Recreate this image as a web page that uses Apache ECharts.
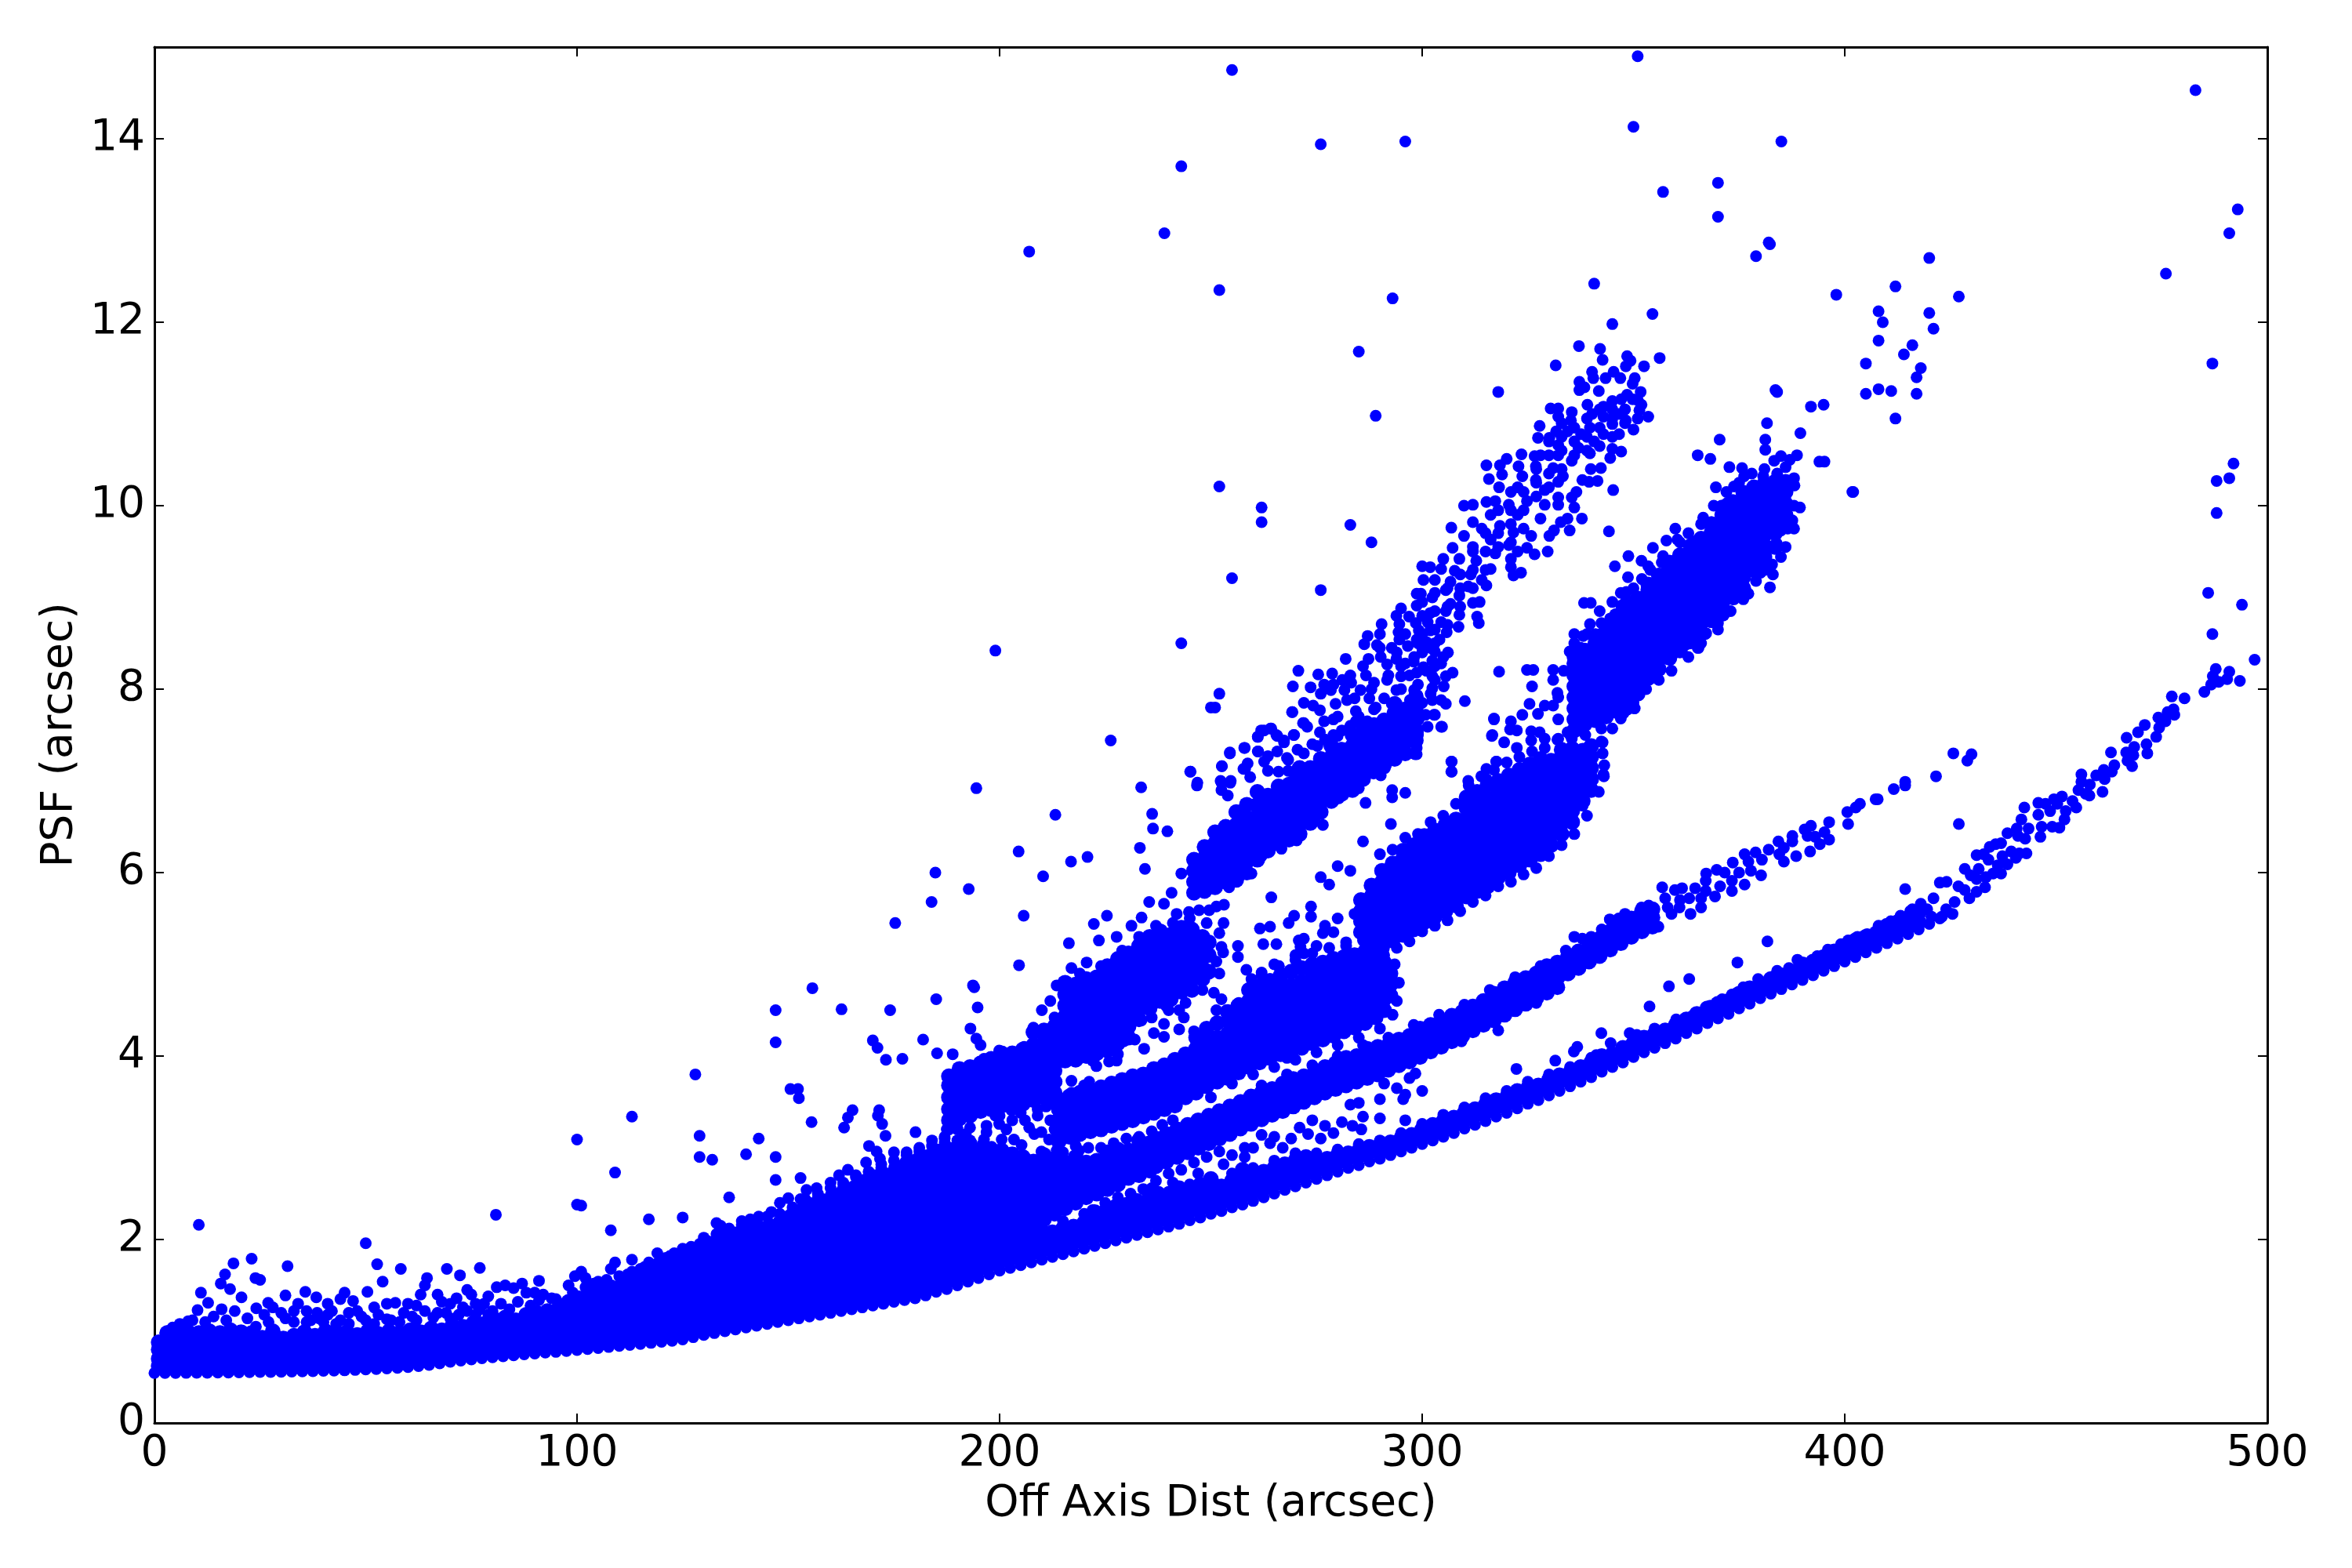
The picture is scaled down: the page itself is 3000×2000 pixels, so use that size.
<!DOCTYPE html>
<html><head><meta charset="utf-8">
<style>html,body{margin:0;padding:0;background:#fff}#c{width:3000px;height:2000px}</style>
<script src="https://cdn.jsdelivr.net/npm/echarts@6/dist/echarts.min.js"></script>
</head><body><div id="c"></div>
<script>
const xTitle = "Off Axis Dist (arcsec)";
const yTitle = "PSF (arcsec)";
// Every list below holds values. Pairs are [x, y]; columns are [x, y, y, ...].
const floorEdge = [[0,.545],[2.5,.545],[5,.545],[7.5,.546],[10,.547],[12.5,.548],[15,.549],[17.5,.55],[20,.552],[22.5,.553],[25,.555],[27.5,.556],[30,.558],[32.5,.56],[35,.562],[37.5,.565],[40,.568],[42.5,.57],[45,.574],[47.5,.578],[50,.583],[52.5,.588],[55,.594],[57.5,.6],[60,.61],[62.5,.62],[65,.633],[67.5,.65],[70,.667],[72.5,.68],[75,.693],[77.5,.705],[80,.716],[82.5,.727],[85,.738],[87.5,.748],[90,.757],[92.5,.767],[95,.775],[97.5,.785],[100,.795],[102.5,.805],[105,.817],[107.5,.828],[110,.84],[112.5,.85],[115,.862],[117.5,.873],[120,.885],[122.5,.896],[125,.91],[127.5,.935],[130,.96],[132.5,.98],[135,1.0],[137.5,1.02],[140,1.04],[142.5,1.06],[145,1.08],[147.5,1.1],[150,1.12],[152.5,1.14],[155,1.16],[157.5,1.18],[160,1.2],[162.5,1.22],[165,1.24],[167.5,1.26],[170,1.28],[172.5,1.3],[175,1.32],[177.5,1.34],[180,1.36],[182.5,1.39],[185,1.43],[187.5,1.46],[190,1.5],[192.5,1.54],[195,1.58],[197.5,1.62],[200,1.66],[202.5,1.69],[205,1.72],[207.5,1.75],[210,1.78],[212.5,1.81],[215,1.84],[217.5,1.87],[220,1.9],[222.5,1.93],[225,1.96],[227.5,1.99],[230,2.02],[232.5,2.05],[235,2.08],[237.5,2.11],[240,2.14],[242.5,2.17],[245,2.21],[247.5,2.24],[250,2.28],[252.5,2.31],[255,2.35],[257.5,2.38],[260,2.42],[262.5,2.46],[265,2.5],[267.5,2.54],[270,2.58],[272.5,2.62],[275,2.66],[277.5,2.7],[280,2.74],[282.5,2.78],[285,2.81],[287.5,2.85],[290,2.88],[292.5,2.92],[295,2.96],[297.5,3.0],[300,3.04],[302.5,3.08],[305,3.12],[307.5,3.16],[310,3.21],[312.5,3.25],[315,3.29],[317.5,3.34],[320,3.38],[322.5,3.43],[325,3.48],[327.5,3.52],[330,3.57],[332.5,3.62],[335,3.67],[337.5,3.72],[340,3.77],[342.5,3.83],[345,3.88],[347.5,3.93],[350,3.99],[352.5,4.04],[355,4.09],[357.5,4.14],[360,4.19],[362.5,4.25],[365,4.3],[367.5,4.36],[370,4.41],[372.5,4.46],[375,4.52],[377.5,4.57],[380,4.63],[382.5,4.68],[385,4.73],[387.5,4.78],[390,4.83],[392.5,4.88],[395,4.93],[397.5,4.98],[400,5.03],[402.5,5.08],[405,5.13],[407.5,5.18],[410,5.23],[412.5,5.28],[415,5.33],[417.5,5.38],[420,5.44],[422.5,5.5]];
const coreBlob = [
[1,.62,.7,.8,.88],[3,.62,.72,.82,.92,.98],[5.5,.63,.73,.83,.93,1.0],[8,.63,.73,.83,.93,.99],[10.5,.62,.72,.82,.92,.98],[13,.63,.74,.84,.93,1.0],[15.5,.62,.72,.82,.92,.98],[18,.63,.73,.83,.94,1.01],[20.5,.63,.72,.82,.93,.99],[23,.63,.74,.85,.95,.98],[25.5,.63,.73,.83,.93],[28,.64,.74,.84,.94,1.0],[30.5,.64,.73,.83,.92],[33,.64,.74,.84,.95],[35.5,.64,.74,.84,.94,.99],[38,.64,.74,.85,.95],[40.5,.65,.75,.85,.96,1.0],[43,.65,.75,.85,.94,.98],[45.5,.65,.75,.86,.96,.99],[48,.66,.76,.86,.96],[50.5,.66,.76,.86,.95,1.0],[53,.67,.77,.87,.97],[55.5,.68,.78,.88,.97,1.0],[58,.68,.78,.88,.98],[60.5,.69,.79,.89,.97,1.01],[63,.7,.8,.9,.99],[65.5,.71,.81,.91,1.0,1.03],[68,.73,.83,.93,1.01],[70.5,.75,.85,.95,1.04,1.06],[73,.76,.86,.96,1.05],[75.5,.78,.88,.98,1.06,1.09],[78,.79,.89,.99,1.08],[80.5,.8,.9,1.0,1.09,1.13],[83,.81,.91,1.01,1.1,1.15],[85.5,.82,.92,1.02,1.12],[88,.83,.93,1.03,1.13,1.18],[90.5,.84,.94,1.04,1.14,1.2],[93,.85,.95,1.05,1.15,1.22],[95.5,.86,.96,1.06,1.16,1.24],[98,.87,.97,1.07,1.17,1.27,1.32],[100.5,.88,.98,1.08,1.18,1.28,1.36],[103,.89,.99,1.09,1.19,1.29,1.39,1.42],[105.5,.9,1.0,1.1,1.2,1.3,1.4,1.44],[108,.91,1.01,1.11,1.21,1.31,1.41,1.48],[110.5,.93,1.03,1.13,1.23,1.33,1.43,1.5],[113,.94,1.04,1.14,1.24,1.34,1.44,1.53],[115.5,.95,1.05,1.15,1.25,1.35,1.45,1.55,1.6],[118,.96,1.06,1.16,1.26,1.36,1.46,1.56,1.64],[120.5,.97,1.07,1.17,1.27,1.37,1.47,1.57,1.67,1.7],[123,.98,1.08,1.18,1.28,1.38,1.48,1.58,1.68,1.76],[125.5,1.0,1.1,1.2,1.3,1.4,1.5,1.6,1.7,1.8],[128,1.03,1.13,1.23,1.33,1.43,1.53,1.63,1.73,1.84,1.88],[130.5,1.05,1.15,1.25,1.35,1.45,1.55,1.65,1.75,1.85,1.92],[133,1.07,1.17,1.27,1.37,1.47,1.57,1.67,1.77,1.87,1.97],[135.5,1.09,1.19,1.29,1.39,1.49,1.59,1.69,1.79,1.89,1.99,2.02],[138,1.11,1.21,1.31,1.41,1.51,1.61,1.71,1.81,1.91,2.01,2.06],[140.5,1.13,1.23,1.33,1.43,1.53,1.63,1.73,1.83,1.93,2.03,2.1],[143,1.15,1.25,1.35,1.45,1.55,1.65,1.75,1.85,1.95,2.05,2.13],[145.5,1.17,1.27,1.37,1.47,1.57,1.67,1.77,1.87,1.97,2.07,2.15],[148,1.19,1.29,1.39,1.49,1.59,1.69,1.79,1.89,1.99,2.09,2.18],[150.5,1.22,1.32,1.42,1.52,1.62,1.72,1.82,1.92,2.02,2.12,2.22,2.25],[153,1.24,1.34,1.44,1.54,1.64,1.74,1.84,1.94,2.04,2.14,2.24,2.31],[155.5,1.26,1.36,1.46,1.56,1.66,1.76,1.86,1.96,2.06,2.16,2.26,2.34],[158,1.28,1.38,1.48,1.58,1.68,1.78,1.88,1.98,2.08,2.18,2.28,2.38,2.42],[160.5,1.3,1.4,1.5,1.6,1.7,1.8,1.9,2.0,2.1,2.2,2.3,2.4,2.48],[163,1.32,1.42,1.52,1.62,1.72,1.82,1.92,2.02,2.12,2.22,2.32,2.42,2.52],[165.5,1.34,1.44,1.54,1.64,1.74,1.84,1.94,2.04,2.14,2.24,2.34,2.44,2.56],[168,1.36,1.46,1.56,1.66,1.76,1.86,1.96,2.06,2.16,2.26,2.36,2.46,2.56,2.63],[170.5,1.38,1.48,1.58,1.68,1.78,1.88,1.98,2.08,2.18,2.28,2.38,2.48,2.58,2.68],[173,1.4,1.5,1.6,1.7,1.8,1.9,2.0,2.1,2.2,2.3,2.4,2.5,2.6,2.7],[175.5,1.42,1.52,1.62,1.72,1.82,1.92,2.02,2.12,2.22,2.32,2.42,2.52,2.62,2.72,2.78],[178,1.44,1.54,1.64,1.74,1.84,1.94,2.04,2.14,2.24,2.34,2.44,2.54,2.64,2.74,2.83],[180.5,1.46,1.56,1.66,1.76,1.86,1.96,2.06,2.16,2.26,2.36,2.46,2.56,2.66,2.76,2.86],[183,1.49,1.59,1.69,1.79,1.89,1.99,2.09,2.19,2.29,2.39,2.49,2.59,2.69,2.79,2.9],[185.5,1.53,1.63,1.73,1.83,1.93,2.03,2.13,2.23,2.33,2.43,2.53,2.63,2.73,2.83,2.96],[188,1.57,1.67,1.77,1.87,1.97,2.07,2.17,2.27,2.37,2.47,2.57,2.67,2.77,2.87,2.98],[190.5,1.61,1.71,1.81,1.91,2.01,2.11,2.21,2.31,2.41,2.51,2.61,2.71,2.81,2.91,3.0],[193,1.65,1.75,1.85,1.95,2.05,2.15,2.25,2.35,2.45,2.55,2.65,2.75,2.85,2.95,3.0],[195.5,1.69,1.79,1.89,1.99,2.09,2.19,2.29,2.39,2.49,2.59,2.69,2.79,2.89,2.97],[198,1.98,2.08,2.18,2.28,2.38,2.48,2.58,2.68,2.78,2.88,2.98],[200.5,2.0,2.1,2.2,2.3,2.4,2.5,2.6,2.7,2.8,2.9,2.97],[203,2.05,2.15,2.25,2.35,2.45,2.55,2.65,2.75,2.85,2.93],[205.5,2.1,2.2,2.3,2.4,2.5,2.6,2.7,2.8,2.9],[208,2.15,2.25,2.35,2.45,2.55,2.65,2.75,2.85],[210.5,2.22,2.32,2.42,2.52,2.62,2.72,2.82,2.92],[213,2.28,2.38,2.48,2.58,2.68,2.78,2.88],[215.5,2.34,2.44,2.54,2.64,2.74,2.84],[218,2.4,2.5,2.6,2.7,2.8,2.9],[220.5,2.46,2.56,2.66,2.76,2.84],[223,2.5,2.6,2.7,2.8,2.86],[225.5,2.55,2.65,2.75,2.85,2.95],[228,2.6,2.7,2.8,2.9,2.98],[230.5,2.67,2.77,2.87,2.97],[233,2.7,2.8,2.9,3.0,3.08],[235.5,2.75,2.85,2.95,3.05]];
const bandA = [
[197.5,1.72,1.82,1.9],[200,1.76,1.86,1.94],[202.5,1.79,1.89,1.97],[205,1.82,1.92,2.0],[207.5,1.85,1.95,2.03],[210,1.88,1.98,2.06],[212.5,1.91,2.01,2.08],[215,1.94,2.04,2.12],[217.5,1.97,2.07,2.14],[220,2.0,2.1,2.18],[222.5,2.03,2.13,2.22,2.3],[225,2.06,2.16,2.24],[227.5,2.09,2.19,2.28,2.36],[230,2.12,2.22,2.3],[232.5,2.15,2.25,2.34,2.42],[235,2.18,2.28,2.36],[237.5,2.21,2.31,2.4,2.5],[240,2.24,2.34,2.44],[242.5,2.27,2.37,2.46,2.56],[245,2.31,2.41,2.5],[247.5,2.34,2.44,2.52,2.6],[250,2.38,2.48,2.56,2.66],[252.5,2.41,2.51,2.58],[255,2.45,2.55,2.64],[257.5,2.48,2.58,2.68,2.76],[260,2.52,2.62,2.7],[262.5,2.56,2.66,2.74],[265,2.6,2.7,2.78],[267.5,2.64,2.74,2.82],[270,2.68,2.78,2.86],[272.5,2.72,2.82,2.9],[275,2.76,2.86],[277.5,2.8,2.88],[280,2.84,2.92],[282.5,2.88,2.94],[285,2.91,2.97],[287.5,2.95,3.01],[290,2.97,3.03],[292.5,3.01,3.06],[295,3.05,3.1],[297.5,3.09,3.14],[300,3.13,3.2],[302.5,3.17,3.25],[305,3.21,3.29],[307.5,3.25,3.33],[310,3.3,3.38],[312.5,3.35,3.42],[315,3.39,3.47],[317.5,3.44,3.52],[320,3.48,3.55],[322.5,3.53,3.62],[325,3.58,3.65],[327.5,3.62,3.68],[330,3.67,3.74],[332.5,3.72,3.79],[335,3.76,3.82],[337.5,3.81,3.88],[340,3.86,3.93],[342.5,3.92,4.0],[345,3.97,4.02],[347.5,4.01,4.09],[350,4.07,4.14],[352.5,4.12,4.2],[355,4.17,4.24],[357.5,4.22,4.28],[360,4.27,4.34],[362.5,4.33,4.4],[365,4.38,4.46],[367.5,4.44,4.52],[370,4.49,4.57],[372.5,4.54,4.6],[375,4.6,4.68],[377.5,4.65,4.74],[380,4.71,4.78],[382.5,4.76,4.84],[385,4.81,4.88],[387.5,4.86,4.92],[390,4.91,5.0],[392.5,4.96,5.03],[395,5.01,5.08],[397.5,5.06,5.14],[400,5.11,5.18],[402.5,5.16,5.26],[405,5.21,5.3],[407.5,5.26,5.34],[410,5.31,5.42],[412.5,5.36,5.46],[415,5.41,5.5],[417.5,5.46,5.56]];
const topA = [[342.4,4.25],[336.7,4.1],[335.9,4.05],[344.6,4.14],[341.2,4.01],[349.1,4.25],[350.8,4.23],[355,4.3],[360.1,4.4],[364,4.44],[368.2,4.55],[373.3,4.67],[379.5,4.84],[374.6,5.02],[381.7,5.25],[363.2,4.84],[358.4,4.76],[353.8,4.54],[386.8,4.96],[388.8,5.05],[393.5,5.09],[399.1,5.22],[400.8,5.26],[405.3,5.33],[410.9,5.47],[413.2,5.53],[417.7,5.6],[384,4.93],[371,4.62],[376,4.75],[396,5.16],[403,5.3],[408,5.42],[415.5,5.58]];
const tailA = [[497,8.32],[493.5,8.09],[491,8.19],[490.5,8.11],[487.8,8.22],[487.1,8.14],[486.7,8.05],[488.5,8.08],[485.1,7.97],[487,8.6],[480.4,7.9],[477.4,7.92],[477.8,7.78],[476.4,7.75],[478,7.72],[475.9,7.65],[474.2,7.69],[474.4,7.58],[471,7.61],[473.7,7.48],[469.4,7.53],[466.7,7.47],[471.4,7.4],[471.6,7.3],[468.5,7.37],[466.6,7.31],[468.3,7.28],[466.9,7.22],[468,7.16],[463,7.31],[463.8,7.17],[461.3,7.12],[459.5,7.06],[463.2,7.1],[456,7.07],[461.5,7.02],[456,6.99],[455.3,6.9],[458,6.96],[457.9,6.84],[461,6.88],[457,6.86],[451.4,6.83],[449.5,6.8],[453.9,6.78],[454.8,6.71],[450.3,6.75],[452.3,6.67],[445.8,6.76],[447.5,6.75],[442.5,6.71],[445.8,6.63],[448.6,6.67],[452,6.58],[449.1,6.5],[450.8,6.49],[441.8,6.58],[440.7,6.48],[438.5,6.43],[443.5,6.48],[446.6,6.5],[441,6.4],[442.7,6.37],[446.3,6.39],[437,6.32],[434.3,6.28],[435.7,6.31],[443,6.21],[441.3,6.21],[439.4,6.23],[431.2,6.19],[432.9,6.2],[437.3,6.18],[440.5,6.16],[434,6.14],[438.5,6.09],[436.2,6.08],[431.7,6.04],[428.4,6.04],[429.8,5.97],[431.2,5.93],[433.4,5.95],[437,5.99],[435.1,5.99],[433.2,5.84],[426.9,5.85],[422.5,5.89],[424.1,5.9],[428.4,5.81],[431.2,5.79],[429.5,5.72],[414.3,5.82],[426,5.68],[424,5.6],[421,5.72],[423,5.52],[419.5,5.6],[418,5.66],[416,5.6],[425.5,5.55],[420.5,5.52]];
const bandB = [
[237,2.8,2.9,3.0,3.1],[239.5,2.85,2.95,3.05,3.15],[242,2.9,3.0,3.1,3.2],[244.5,2.95,3.05,3.15,3.25],[247,3.0,3.1,3.2,3.3],[249.5,3.05,3.15,3.25,3.35],[252,3.1,3.2,3.3,3.4],[254.5,3.15,3.25,3.35,3.45],[257,3.21,3.31,3.41,3.5],[259.5,3.26,3.36,3.46,3.56],[262,3.31,3.41,3.51,3.6],[264.5,3.36,3.46,3.56,3.64],[267,3.4,3.5,3.6,3.7],[269.5,3.45,3.55,3.65,3.75],[272,3.5,3.6,3.7,3.78],[274.5,3.55,3.65,3.75,3.82],[277,3.6,3.7,3.8,3.88],[279.5,3.64,3.74,3.84,3.92],[282,3.68,3.78,3.88,3.98],[284.5,3.72,3.82,3.92,4.0],[287,3.76,3.86,3.96,4.08],[289.5,3.8,3.9,4.0,4.1],[292,3.85,3.95,4.05,4.12],[294.5,3.9,4.0,4.1,4.18],[297,3.94,4.04,4.14,4.22],[299.5,3.99,4.09,4.19,4.3],[302,4.05,4.15,4.25,4.34],[304.5,4.1,4.2,4.3,4.38],[307,4.16,4.26,4.36,4.44],[309.5,4.22,4.32,4.42,4.48],[312,4.28,4.38,4.48,4.54],[314.5,4.34,4.44,4.54,4.6],[317,4.39,4.49,4.59,4.68],[319.5,4.45,4.55,4.65,4.74],[322,4.51,4.61,4.71,4.8],[324.5,4.57,4.67,4.77,4.85],[327,4.63,4.73,4.83,4.9],[329.5,4.69,4.79,4.89,4.98],[332,4.75,4.85,4.95,5.02],[334.5,4.9,5.0,5.08],[337,4.96,5.06,5.14],[339.5,5.03,5.13,5.2],[342,5.09,5.19,5.28],[344.5,5.16,5.26,5.36],[347,5.23,5.33,5.42],[349.5,5.3,5.4,5.5],[352,5.36,5.46,5.58],[354.5,5.41,5.51,5.6]];
const tailB = [[430,7.29],[429,7.22],[425.7,7.3],[421.6,7.05],[427,6.53],[414.3,6.99],[414.3,6.95],[411.6,6.91],[407.3,6.8],[407.8,6.8],[403.6,6.75],[402.6,6.71],[400.6,6.66],[396.3,6.55],[400.8,6.53],[392,6.51],[390.5,6.47],[391.2,6.4],[395.2,6.44],[396.3,6.36],[394.1,6.31],[393,6.39],[387.6,6.4],[387.6,6.34],[384.3,6.34],[391.8,6.23],[388.5,6.18],[385.6,6.27],[384.5,6.2],[385.6,6.12],[382,6.25],[378.9,6.22],[376.3,6.2],[380.4,6.14],[373.5,6.11],[377.2,6.12],[377.8,6.02],[380.2,5.97],[376.3,5.87],[375,6],[369.7,6.03],[367.2,5.99],[371.6,6],[373.3,5.91],[373.3,5.8],[367.1,5.91],[370.5,5.85],[367.1,5.8],[364.6,5.83],[356.8,5.84],[369.3,5.74],[366,5.72],[366,5.62],[361.5,5.83],[359.8,5.81],[363.2,5.72],[357.5,5.72],[353.6,5.64],[351.9,5.62],[360.9,5.62],[363.5,5.55],[358.1,5.62],[353.6,5.49],[355.9,5.41],[348.5,5.47],[344.4,5.49],[350.2,5.51],[351.4,5.36],[359,5.55],[361,5.7],[336,5.3],[337.9,5.28],[340,5.3],[342.5,5.38],[346.5,5.5],[348,5.55]];
const fringe = [[327,4.58],[318,4.28],[309.3,4.16],[298.4,3.81],[322.3,3.86],[331.5,3.95],[300,3.62],[294,3.65],[296,3.58],[295.5,3.53],[290,3.53],[283,3.47],[285,3.49],[286,3.34],[290,3.32],[296,3.3],[285.6,3.2],[281,3.28],[277,3.24],[271,3.22],[273,3.15],[264,3.05],[267,3.0],[260,3.0],[274,3.3],[279,3.16],[283.5,3.24],[269,3.1],[262,3.14],[258,3.0],[255,2.92],[252,2.96],[249,2.9],[246,2.84],[243,2.76],[240,2.72],[237,2.64],[234,2.55],[231,2.5],[228,2.46],[258,2.9],[265,3.12],[276,3.1],[253,2.82],[247,2.72],[241,2.62],[236,2.56],[225,2.4],[222,2.32],[215,2.95],[218,3.02],[221,3.0],[224,3.0],[227,3.05],[230,3.1],[233,3.12],[236,3.18],[238.5,3.25],[241,3.3],[190,3.2],[193,3.22],[199,3.35],[203,3.3],[206,3.3],[209,3.35],[212,3.3],[192,3.15],[207,3.22],[213,3.2],[211,3.45],[204,3.45]];
const coreC1 = [
[214,3.07,3.18,3.3,3.42,3.52],[216.5,3.12,3.23,3.35,3.47,3.56],[219,3.15,3.27,3.39,3.5,3.6],[221.5,3.18,3.3,3.42,3.54,3.62],[224,3.2,3.32,3.44,3.56,3.66],[226.5,3.24,3.36,3.48,3.6,3.7],[229,3.27,3.38,3.5,3.62,3.74],[231.5,3.3,3.42,3.54,3.66,3.78],[234,3.34,3.46,3.58,3.7,3.8],[236.5,3.38,3.5,3.62,3.74,3.86],[239,3.42,3.54,3.66,3.78,3.9],[241.5,3.46,3.58,3.7,3.82,3.96],[244,3.55,3.67,3.79,3.91,4.02],[246.5,3.6,3.72,3.84,3.96,4.08,4.2],[249,3.67,3.79,3.91,4.03,4.15,4.3],[251.5,3.72,3.84,3.96,4.08,4.2,4.36],[254,3.76,3.88,4.0,4.12,4.24,4.38,4.48],[256.5,3.82,3.94,4.06,4.18,4.3,4.42,4.55],[259,3.88,4.0,4.12,4.24,4.36,4.48,4.6,4.72],[261.5,3.93,4.05,4.17,4.29,4.41,4.53,4.65,4.76],[264,3.98,4.1,4.22,4.34,4.46,4.58,4.7,4.82],[266.5,4.02,4.14,4.26,4.38,4.5,4.62,4.74,4.88],[269,4.05,4.17,4.29,4.41,4.53,4.65,4.77,4.92],[271.5,4.09,4.21,4.33,4.45,4.57,4.69,4.81,4.96],[274,4.14,4.26,4.38,4.5,4.62,4.74,4.86,5.0],[276.5,4.18,4.3,4.42,4.54,4.66,4.78,4.9,5.02],[279,4.22,4.34,4.46,4.58,4.7,4.82,4.94,5.06],[281.5,4.27,4.39,4.51,4.63,4.75,4.87,4.99,5.08],[284,4.31,4.43,4.55,4.67,4.79,4.91,5.03,5.1],[286.5,4.36,4.48,4.6,4.72,4.84,4.96,5.08,5.14],[289,4.42,4.54,4.66,4.78,4.9,5.02,5.1],[291,4.5,4.62,4.74,4.86,4.98,5.02],[292.5,4.66,4.78,4.9]];
const scatterC1 = [[264.3,5.73],[273.7,5.63],[273.7,5.52],[269.7,5.53],[268.4,5.45],[261.6,5.39],[264,5.41],[262.4,5.22],[265.5,5.22],[277,5.42],[276.5,5.34],[272,5.28],[270.8,5.26],[271.2,5.19],[270,5.1],[256.4,5.2],[256.4,5.08],[280,6.07],[276,5.95],[278,5.87],[283,6.02],[286,6.34],[292.6,6.53],[292.9,6.9],[292.9,6.82],[296,6.87],[286.6,6.76],[307,7.21],[307,7.1],[317.6,7.21],[317,7.68],[316.5,7.49],[258.4,4.94],[259.6,4.84],[262,4.91],[266.1,4.98],[256.6,4.58],[253.7,4.5],[251.3,4.5],[252.5,4.62],[250.7,4.69],[246,4.27],[242.5,4.29],[238.9,4.21],[236.5,4.25],[238.9,4.35],[243.6,4.42],[239.5,4.54],[242.5,4.5],[234.2,4.08],[291,3.7],[297,3.76],[268,3.98],[263,4.0],[275,5.2],[282,5.24],[286,5.3],[279,5.35],[280,5.5],[284,5.55],[288,5.5],[265,5.0],[272,5.12]];
const coreC2 = [
[285.5,5.35,5.47,5.58,5.7],[288,5.14,5.26,5.38,5.5,5.62,5.74,5.86],[290.5,5.18,5.3,5.42,5.54,5.66,5.78,5.9,6.02],[293,5.26,5.38,5.5,5.62,5.74,5.86,5.98,6.1],[295.5,5.32,5.44,5.56,5.68,5.8,5.92,6.04,6.16,6.24],[298,5.38,5.5,5.62,5.74,5.86,5.98,6.1,6.22,6.3],[300.5,5.46,5.58,5.7,5.82,5.94,6.06,6.18,6.3,6.4],[303,5.52,5.64,5.76,5.88,6.0,6.12,6.24,6.36,6.46],[305.5,5.58,5.7,5.82,5.94,6.06,6.18,6.3,6.42,6.52],[308,5.64,5.76,5.88,6.0,6.12,6.24,6.36,6.48,6.58],[310.5,5.74,5.86,5.98,6.1,6.22,6.34,6.46,6.58,6.7,6.82],[313,5.8,5.92,6.04,6.16,6.28,6.4,6.52,6.64,6.76,6.88],[315.5,5.85,5.97,6.09,6.21,6.33,6.45,6.57,6.69,6.81,6.96],[318,5.95,6.07,6.19,6.31,6.43,6.55,6.67,6.79,6.91,7.0],[320.5,6.0,6.12,6.24,6.36,6.48,6.6,6.72,6.84,6.96,7.06],[323,6.08,6.2,6.32,6.44,6.56,6.68,6.8,6.92,7.04,7.12],[325.5,6.14,6.26,6.38,6.5,6.62,6.74,6.86,6.98,7.1,7.18],[328,6.2,6.32,6.44,6.56,6.68,6.8,6.92,7.04,7.16,7.24],[330.5,6.3,6.42,6.54,6.66,6.78,6.9,7.02,7.14,7.22],[333,6.42,6.54,6.66,6.78,6.9,7.02,7.14,7.26,7.34],[335.5,6.55,6.67,6.79,6.91,7.03,7.15,7.27,7.35],[338,6.78,6.9,7.02,7.14,7.26,7.33],[340,6.9,7.02,7.14,7.26,7.38]];
const coreC3 = [
[336,7.55,7.67,7.79,7.91,8.03,8.15,8.28,8.36],[338.5,7.62,7.74,7.86,7.98,8.1,8.22,8.34,8.42],[341,7.66,7.78,7.9,8.02,8.14,8.26,8.38,8.5,8.58],[343.5,7.7,7.82,7.94,8.06,8.18,8.3,8.42,8.54,8.64],[346,7.76,7.88,8.0,8.12,8.24,8.36,8.48,8.6,8.72,8.8],[348.5,7.8,7.92,8.04,8.16,8.28,8.4,8.52,8.64,8.76,8.88,8.94],[351,7.95,8.07,8.19,8.31,8.43,8.55,8.67,8.79,8.91,8.99],[353.5,8.12,8.24,8.36,8.48,8.6,8.72,8.84,8.96,9.08,9.14],[356,8.22,8.34,8.46,8.58,8.7,8.82,8.94,9.06,9.18,9.24],[358.5,8.34,8.46,8.58,8.7,8.82,8.94,9.06,9.18,9.3,9.38],[361,8.42,8.54,8.66,8.78,8.9,9.02,9.14,9.26,9.38,9.46],[363.5,8.52,8.64,8.76,8.88,9.0,9.12,9.24,9.36,9.48,9.56],[366,8.6,8.72,8.84,8.96,9.08,9.2,9.32,9.44,9.56,9.64],[368.5,8.75,8.87,8.99,9.11,9.23,9.35,9.47,9.59,9.71,9.8],[371,8.82,8.94,9.06,9.18,9.3,9.42,9.54,9.66,9.78,9.9,9.98],[373.5,9.0,9.12,9.24,9.36,9.48,9.6,9.72,9.84,9.96,10.04],[376,9.1,9.22,9.34,9.46,9.58,9.7,9.82,9.94,10.06,10.14],[378.5,9.3,9.42,9.54,9.66,9.78,9.9,10.02,10.14,10.2],[381,9.32,9.44,9.56,9.68,9.8,9.92,10.04,10.16,10.24],[383.5,9.55,9.7,9.82,9.94,10.06,10.18,10.26],[386,9.78,9.9,10.02,10.15,10.26]];
const edgeC3 = [[389.4,9.98],[382.3,9.11],[377.2,9.04],[365.2,8.45],[367.2,8.61],[388.1,10.22],[380.7,10.32],[384.9,10.54],[388.7,10.55],[383.3,10.49],[387,10.5],[369.5,10.2],[373.8,10.21],[376.2,10.32],[375.7,10.41],[372.7,10.42],[365.2,10.55],[368.2,10.51],[370.4,10.72],[381.2,10.72],[381.2,10.61],[381.6,10.9],[389.5,10.79],[395.2,10.48],[401.8,10.15],[383.6,11.26],[348.8,9.45],[345.6,9.34],[348.7,9.22],[348.3,9.06],[354.6,9.54],[357.8,9.62],[360.4,9.63],[359.9,9.75],[351.9,9.4],[353.5,9.34],[356.7,9.38],[338.3,8.94],[339.9,8.94],[366.5,9.87],[368.4,9.82],[364.2,9.61],[372.2,10.03],[336,8.6],[338.1,8.58],[339.7,8.71],[342.4,8.72],[344.5,8.77],[347.1,8.91],[352.5,8.98],[334.9,8.41],[337.5,8.45],[331,8.21],[331,8.1],[333.5,8.2],[336,8.28],[324.8,8.21],[326.3,8.21],[326,8.03],[318.2,8.19],[325.4,7.84],[329,7.82],[331,7.82],[327.4,7.73],[332.2,7.91],[332,7.96],[317,7.67],[323.7,7.72],[321,7.65],[320.8,7.56],[322.4,7.55],[325.8,7.54],[327.8,7.53],[316.6,7.5],[332.2,7.67],[334.4,7.53],[319.4,7.42],[322.4,7.36],[325.8,7.44],[329,7.46],[332.2,7.46],[335.4,7.46],[338.6,7.5],[342.4,7.57],[345,7.57],[342.7,7.42],[342.7,7.3],[336.5,7.61],[339.7,7.72],[343.4,7.74],[347.7,7.74],[350.3,7.79],[342.9,7.07],[343.1,7.17],[350.9,8.03],[353.5,8.18],[355.7,8.22],[358.8,8.32],[362.6,8.49],[370,8.72],[368.4,8.73],[373.8,8.98],[370.6,8.83],[380.1,9.27],[376.9,9.4],[384.9,9.44],[382.8,9.36],[386.5,9.75],[384.9,9.73],[387.6,9.84],[383.9,9.59],[350.2,7.79],[351.4,8.0],[355.3,8.2],[365.4,8.45],[367,8.6],[338,6.73],[341.8,6.88],[343,7.05],[342.4,7.43]];
const coreD1 = [
[188,3.3,3.42,3.55,3.68,3.78],[190.5,3.32,3.44,3.56,3.67,3.79,3.86],[193,3.35,3.46,3.58,3.7,3.8,3.88],[195.5,3.4,3.5,3.62,3.74,3.85,3.92],[198,3.42,3.54,3.66,3.78,3.9,3.97],[200.5,3.46,3.58,3.7,3.82,3.94,4.03],[203,3.45,3.57,3.69,3.81,3.93,4.03],[205.5,3.48,3.6,3.72,3.84,3.96,4.07],[208,3.52,3.64,3.76,3.88,4.0,4.12,4.26],[210.5,3.55,3.67,3.79,3.91,4.03,4.15,4.28],[213,3.6,3.72,3.84,3.96,4.08,4.2,4.32],[215.5,3.95,4.07,4.19,4.31,4.43,4.55,4.67,4.8],[218,3.96,4.08,4.2,4.32,4.44,4.56,4.68,4.78],[220.5,4.0,4.12,4.24,4.36,4.48,4.6,4.72,4.84],[223,4.03,4.15,4.27,4.39,4.51,4.63,4.75,4.86],[225.5,4.06,4.18,4.3,4.42,4.54,4.66,4.78,4.9,4.98],[228,4.14,4.26,4.38,4.5,4.62,4.74,4.86,4.98,5.06],[230.5,4.2,4.32,4.44,4.56,4.68,4.8,4.92,5.04,5.12],[233,4.4,4.52,4.64,4.76,4.88,5.0,5.12,5.2],[235.5,4.52,4.64,4.76,4.88,5.0,5.12,5.24,5.3],[238,4.6,4.72,4.84,4.96,5.08,5.2,5.32,5.36],[240.5,4.62,4.74,4.86,4.98,5.1,5.22,5.32],[243,4.7,4.82,4.94,5.06,5.18,5.3,5.4],[245.5,4.72,4.84,4.96,5.08,5.2,5.32,5.38],[248,4.84,4.96,5.08,5.2,5.3],[249.5,4.92,5.1,5.24]];
const edgeD1 = [[190.4,3.85],[196.3,3.97],[199.9,4.06],[205.8,4.1],[215,4.12],[208,4.31],[213.5,4.77],[217,4.96],[220.6,5.02],[227.7,5.3],[231.2,5.42],[233.6,5.51],[238.9,5.66],[235.4,5.68],[225.4,5.53],[222.3,5.44],[223.5,5.26],[216.4,5.23],[204.6,4.99],[193.7,4.77],[185,4.62],[194.8,4.53],[253.1,5.65],[251.3,5.63],[249.6,5.59],[247.2,5.59],[244.8,5.57],[241.9,5.55],[252,5.34],[252.5,5.19],[252.9,5.13],[251.3,5.03],[248.4,4.92],[243,4.69],[238.9,4.65],[234.2,4.54],[233.6,4.39],[229.4,4.16],[227.7,4.14],[230.6,4.31],[224.1,4.06],[220.6,4.0],[217,3.97],[213.5,3.72],[217,3.73],[221.2,3.72],[220,3.68],[222.9,3.89],[225.9,3.94],[227.7,3.95],[213.5,3.58],[217,3.6],[205.8,3.47],[207.6,3.51],[202.8,3.41],[199.9,3.26],[196.9,3.24],[196.9,3.17],[201.6,3.2],[208.2,3.15],[209.9,3.17],[200.5,3.09],[196.3,3.09],[191,3.09],[193.4,3.05],[203.4,3.09],[205.2,3.03],[198.1,3.01],[211.7,3.09],[209.9,2.96],[213.5,2.97],[218.8,2.97],[223.5,2.86],[187,3.12],[187.5,3.2],[210,4.5],[212,4.6],[213,4.42]];
const coreD2 = [
[246,5.78,5.9,6.02,6.14],[248.5,5.8,5.92,6.04,6.16,6.28],[251,5.84,5.96,6.08,6.2,6.32,6.44],[253.5,5.9,6.02,6.14,6.26,6.38,6.5],[256,5.92,6.04,6.16,6.28,6.4,6.52,6.66],[258.5,6.0,6.12,6.24,6.36,6.48,6.6,6.74],[261,6.14,6.26,6.38,6.5,6.62,6.74,6.88],[263.5,6.24,6.36,6.48,6.6,6.72,6.84],[266,6.32,6.44,6.56,6.68,6.8,6.94],[268.5,6.36,6.48,6.6,6.72,6.84,6.96],[271,6.42,6.54,6.66,6.78,6.9,7.02,7.14],[273.5,6.54,6.66,6.78,6.9,7.02,7.14],[276,6.66,6.78,6.9,7.02,7.14,7.24],[278.5,6.78,6.9,7.02,7.14,7.26,7.38],[281,6.86,6.98,7.1,7.22,7.34],[283.5,6.9,7.02,7.14,7.26,7.38,7.5],[286,7.02,7.14,7.26,7.38,7.5,7.6],[288.5,7.1,7.22,7.34,7.46,7.58],[291,7.18,7.3,7.42,7.54,7.66],[293.5,7.24,7.36,7.48,7.6,7.72,7.84],[296,7.3,7.42,7.54,7.66,7.78],[298.5,7.44,7.56,7.68,7.8,7.92]];
const edgeD2 = [[243,5.99],[240.7,5.78],[245.2,7.1],[246.7,6.95],[252.6,7.16],[254.5,7.3],[252.5,6.98],[254.6,6.98],[252.5,6.9],[254,6.84],[258,7.36],[258.1,7.13],[261.1,7.48],[262.6,7.55],[264.3,7.57],[265.5,7.5],[267.3,7.42],[261.1,7.32],[262.6,7.21],[269.7,7.5],[272,7.63],[269.3,7.75],[254.3,5.84],[259.6,5.99],[262,6.18],[266.7,6.26],[270.3,6.35],[274.6,6.6],[276.5,6.52],[280.3,6.81],[285,6.92],[289.8,7.1],[298.3,7.29],[299,7.5],[304.7,7.59],[302.8,7.72]];
const midD3 = [[300,8.45,8.6,8.8,8.95],[303,8.5,8.65,8.85,9.05],[306,8.7,8.9,9.1],[309,8.9,9.1,9.25],[312,9.1,9.3,9.5],[315,9.3,9.5,9.7],[318,9.55,9.7,9.95],[321,9.6,9.8,9.95,10.15],[324,9.75,9.95,10.15],[327,10.1,10.25,10.4],[330,10.2,10.35,10.55,10.7],[333,10.4,10.6,10.75,10.9],[336,10.55,10.7,10.85],[339,10.6,10.75,10.95],[342,10.65,10.85,11.05],[345,10.75,10.95,11.05],[348,10.9,11.05],[351,10.95,11.15]];
const upperD2 = [[353.5,10.97],[356.2,11.61],[352.5,11.52],[348.5,11.63],[348.2,11.52],[349.3,11.58],[345.3,11.46],[346.9,11.39],[350.3,11.39],[349.8,11.33],[351.7,11.24],[343.4,11.39],[340.2,11.46],[340.5,11.39],[342.7,11.59],[342.1,11.71],[337.1,11.74],[331.6,11.53],[337.2,11.35],[337.2,11.26],[338.4,11.29],[341.8,11.25],[345,11.98],[354.5,12.09],[340.7,12.42],[351.9,11.1],[351.4,11.04],[348.5,11.21],[349.8,11.16],[347.1,11.16],[345,11.14],[342.9,11.08],[339.1,11.1],[335.4,11.02],[332.2,11.06],[330.4,11.06],[332.2,10.97],[335.2,10.93],[340.2,11],[342.9,10.97],[346.6,11],[348.2,10.93],[345,10.89],[350,10.83],[327.8,10.87],[327.4,10.74],[331.7,10.81],[334.4,10.81],[330.1,10.74],[339.7,10.85],[342.9,10.78],[346.6,10.78],[337.6,10.78],[340.7,10.7],[345,10.62],[347.1,10.59],[332.2,10.66],[337,10.63],[339.7,10.57],[335.4,10.49],[344.5,10.52],[342.3,10.41],[339.9,10.4],[323.5,10.56],[326.6,10.54],[328,10.55],[332.2,10.55],[320,10.51],[318.4,10.44],[315.2,10.44],[322.8,10.43],[326.9,10.43],[331,10.41],[318.9,10.34],[315.8,10.29],[323.7,10.32],[326.9,10.28],[333.3,10.32],[332.2,10.26],[337.9,10.28],[339.5,10.26],[341.5,10.27],[345.2,10.17],[318.2,10.2],[322.6,10.2],[329,10.17],[336.5,10.15],[315.2,10.04],[309.9,10],[312,10.01],[317.3,10.05],[320.5,10.01],[324.8,10.05],[332.2,10.09],[335.4,10.09],[329,10.01],[336,9.98],[332.2,10.01],[316.2,9.9],[322.6,9.9],[328,9.86],[332.8,9.82],[334.4,9.86],[337.8,9.86],[334.9,9.73],[331.2,9.73],[330.1,9.67],[329.7,9.5],[344.2,9.72],[312,9.82],[306.9,9.76],[314.1,9.75],[318.4,9.78],[321.6,9.71],[325.8,9.67],[320.5,9.57],[309.9,9.67],[316.2,9.63],[307.2,9.54],[312,9.55],[317.3,9.48],[322.6,9.5],[326.6,9.47],[324.8,9.54],[321,9.42],[305,9.42],[308.8,9.42],[312.8,9.4],[316.2,9.31],[321,9.33],[321.6,9.24],[323.4,9.27],[300,9.34],[301.9,9.33],[304.5,9.31],[307.7,9.29],[311.5,9.25],[314.1,9.19],[300.3,9.19],[303,9.19],[306.7,9.17],[310.9,9.12],[315.2,9.13],[299.7,9.04],[298.7,9.04],[305.6,9.08],[302.4,9],[308.8,9.02],[313.6,8.95],[312,8.94],[298.7,8.91],[301.9,8.83],[306.7,8.93],[305.6,8.85],[308.8,8.81],[313,8.79],[313.4,8.72],[293.9,8.8],[295,8.88],[296.9,8.79],[294.6,8.71],[298.5,8.72],[301.3,8.73],[304.5,8.73],[308.6,8.68],[290.4,8.71],[294.4,8.62],[299.2,8.64],[301.9,8.64],[305.8,8.62],[287.1,8.58],[290,8.6],[294.6,8.54],[298.7,8.54],[304.1,8.54],[301.1,8.51],[286.3,8.49],[289.3,8.48],[292.8,8.45],[296.6,8.47],[306.1,8.4],[303,8.41],[287.3,8.33],[281.9,8.33],[290.2,8.35],[293.9,8.33],[298.1,8.35],[302.4,8.31],[304.5,8.28],[291.7,8.27],[296,8.28],[300.3,8.24],[270.7,8.2],[275.4,8.16],[278.7,8.17],[281.1,8.1],[283.2,8.07],[286.7,8.15],[291.7,8.1],[295,8.14],[298.7,8.18],[302.4,8.14],[305.6,8.14],[307.2,8.18],[269.4,8.03],[273.6,8.02],[276.8,8.05],[278.4,7.99],[281.6,7.99],[285.4,7.99],[288.6,8.07],[293.9,7.99],[298.1,7.99],[302.4,8.01],[305.1,8.03],[282.2,7.88],[287.5,7.9],[292.8,7.84],[297.1,7.88],[302.4,7.88],[304.5,7.88],[305.6,7.84],[310.1,7.87],[274.2,7.82],[275.8,7.77],[269.2,7.75],[279.5,7.84],[284.3,7.76],[288.6,7.78],[297.1,7.76],[300.8,7.72],[303,7.72],[271.8,7.63],[272.8,7.59],[276.8,7.65],[279,7.67],[284.3,7.65],[288.6,7.63],[293.9,7.67],[299.2,7.67],[304.5,7.59],[264.1,7.57],[261.9,7.55],[261.1,7.48],[269.6,7.5],[265.7,7.49],[267.3,7.44],[275.8,7.53],[280,7.49],[285.4,7.49],[291.7,7.51],[296.6,7.46],[299,7.53],[301.3,7.59],[254.5,7.31],[257.9,7.36],[261.2,7.32],[265.7,7.32],[270.5,7.34],[275.2,7.38],[280.7,7.36],[286.4,7.34],[291.7,7.34],[295,7.3],[298.7,7.36],[298.7,7.29],[258.7,7.19],[263.5,7.27],[268.3,7.23],[252.6,7.16],[257.7,7.13],[245.1,7.1],[263.5,7.11],[268.3,7.11],[273.7,7.15],[279,7.19],[284.3,7.19],[289.1,7.19],[291.2,7.14],[290.2,7.06],[288.6,7.21],[306.9,7.21],[306.9,7.1],[310.9,7],[315.2,7.13],[315.2,7.02],[317.5,7.21],[252.3,7],[246.8,6.98],[254.7,7],[259.3,7.04],[269.4,7],[274.7,7.02],[281.1,7.02],[284.3,7.02]];
const fuzzD2 = [[266,7.1],[268,7.25],[270,7.05],[272,7.3],[274,7.4],[276,7.25],[277,7.45],[279,7.5],[281,7.55],[283,7.6],[285,7.7],[287,7.65],[289,7.8],[291,7.9],[293,7.75],[295,8.0],[297,8.15],[299,8.05],[301,8.2],[303,8.25],[300,7.85],[302,7.95],[280,7.7],[284,7.9],[288,8.0],[292,8.15],[295,8.25],[298,8.3],[300,8.4],[303,8.1],[286,8.25],[290,8.45],[294,8.4],[296,8.6],[299,8.5],[302,8.45],[305,8.35],[276,7.95],[272,7.85],[279,8.05],[283,8.15]];
const fuzzC3 = [[336,8.5],[339,8.6],[342,8.85],[345,8.95],[347,9.05],[350,9.1],[352,9.2],[354,9.3],[357,9.45],[361,9.6],[363,9.7],[366,9.8],[369,10.0],[372,10.15],[375,10.25],[378,10.35],[381,10.4],[384,10.35],[386,10.42],[388,10.3],[388,10.0],[388,9.75],[386,9.55],[383,9.25],[379,9.18],[376,8.98],[373,8.85],[370,8.65],[366,8.5],[363,8.35],[359,8.2],[356,8.1],[353,8.0],[350,7.85],[347,7.68]];
const fuzzC2 = [[290,6.2],[293,6.25],[296,6.38],[299,6.42],[302,6.55],[305,6.62],[308,6.75],[311,6.95],[314,7.05],[317,7.12],[320,7.2],[323,7.26],[326,7.32],[329,7.36],[332,7.45],[335,7.5],[288,5.0],[291,5.1],[294,5.18],[297,5.25],[300,5.36],[303,5.42],[306,5.48],[309,5.58],[312,5.68],[315,5.75],[318,5.85],[321,5.9],[324,5.98],[327,6.05],[330,6.18],[333,6.3],[336,6.42],[339,6.62]];
const fuzzC1 = [[262,4.88],[266,4.98],[270,5.05],[274,5.12],[278,5.18],[282,5.2],[286,5.26],[290,5.2],[250,3.55],[255,3.7],[260,3.8],[265,3.88],[270,3.96],[275,4.04],[280,4.12],[285,4.2],[290,4.3],[293,4.45],[294,4.6],[294.5,4.8],[293.5,5.0]];
const fuzzD1 = [[219,4.9],[224,4.98],[229,5.15],[233,5.3],[237,5.42],[241,5.45],[245,5.5],[249,5.45],[253,5.45],[222,3.95],[228,4.02],[232,4.18],[236,4.42],[240,4.5],[244,4.58],[248,4.72],[252,4.9],[200,3.35],[205,3.38],[209,3.42],[212,3.48],[190,3.22],[188,3.2]];
const fuzzB = [[262,3.68],[268,3.8],[274,3.9],[280,4.0],[286,4.12],[292,4.2],[298,4.34],[304,4.45],[310,4.56],[316,4.72],[322,4.86],[328,4.98],[334,5.15],[340,5.28],[346,5.46]];
const fuzzA = [[205,2.08],[210,2.14],[215,2.2],[220,2.28],[225,2.34],[230,2.4],[235,2.46],[240,2.52],[245,2.6],[250,2.62],[255,2.72],[260,2.78],[265,2.86],[270,2.94],[275,2.94],[280,2.98],[285,3.04],[290,3.08],[295,3.16],[300,3.26],[305,3.36],[310,3.44],[315,3.54],[320,3.62],[325,3.72],[330,3.8],[335,3.88],[340,3.98]];
const fuzzBlob = [[3,1.0],[6,1.08],[9,1.12],[12,1.1],[14,1.16],[17,1.12],[19,1.22],[22,1.14],[26,1.18],[28,1.26],[31,1.14],[33,1.22],[36,1.1],[39,1.14],[41,1.18],[43,1.08],[46,1.2],[49,1.16],[53,1.18],[56,1.12],[59,1.2],[61,1.16],[64,1.22],[67,1.2],[70,1.14],[73,1.26],[76,1.18],[78,1.3],[80,1.22],[82,1.3],[84,1.24],[86,1.32],[89,1.28],[91,1.34],[94,1.36],[96,1.3],[99,1.42],[102,1.48],[104,1.52],[107,1.56],[110,1.6],[113,1.65],[116,1.7],[119,1.74],[122,1.82],[125,1.9],[130,2.02],[133,2.06],[136,2.12],[139,2.16],[142,2.2],[145,2.25],[148,2.28],[151,2.35],[154,2.44],[157,2.5],[160,2.56],[163,2.62],[166,2.68],[169,2.74],[172,2.78],[175,2.86],[178,2.95],[181,2.96],[184,3.02],[187,3.06],[190,3.08],[193,3.08],[196,3.04]];
const outliers = [[255,14.75],[351,14.9],[350,14.13],[357,13.42],[243,13.7],[276,13.94],[296,13.97],[385,13.97],[239,12.97],[207,12.77],[370,13.52],[370,13.15],[382,12.87],[379,12.72],[382.3,12.85],[252,12.35],[293,12.26],[483,14.53],[493,13.23],[491,12.97],[476,12.53],[487,11.55],[398,12.3],[412,12.39],[408,12.12],[409,12.0],[420,12.7],[420,12.1],[421,11.93],[427,12.28],[285,11.68],[289,10.98],[318,11.24],[384,11.24],[395,11.1],[392,11.08],[402,10.15],[405,11.55],[405,11.22],[408,11.8],[408,11.27],[411,11.25],[412,10.95],[414,11.65],[416,11.75],[418,11.5],[417,11.4],[417,11.22],[394,10.48],[488,10.27],[492,10.46],[491,10.3],[488,9.92],[494,8.92],[486,9.05],[252,10.21],[262,9.98],[262,9.82],[255,9.21],[283,9.79],[288,9.6],[276,9.08],[243,8.5],[199,8.42],[252,7.95],[250,7.8],[226.3,7.44],[251,7.8],[233.5,6.93],[194.5,6.92],[213.2,6.63],[236.1,6.64],[236.3,6.48],[239.7,6.45],[204.5,6.23],[216.9,6.12],[220.8,6.17],[210.3,5.96],[184.8,6],[192.7,5.82],[183.9,5.68],[205.7,5.53],[175.3,5.45],[233.2,6.27],[234.4,6.04],[194,4.75],[174.1,4.5],[162.6,4.51],[155.7,4.74],[147,4.5],[147,4.15],[170,4.17],[171.1,4.09],[173.1,3.96],[177,3.97],[181.9,4.18],[185.2,4.03],[188.9,4.02],[193.1,4.3],[194.5,4.19],[195.5,4.12],[128,3.8],[150.5,3.64],[152.3,3.64],[152.5,3.54],[155.5,3.28],[165.2,3.41],[164.1,3.33],[163.2,3.22],[171.5,3.41],[171.2,3.35],[172.2,3.26],[173,3.13],[180.1,3.17],[169.1,3.02],[170.9,2.96],[171.7,2.88],[168.4,2.84],[164.1,2.76],[162,2.7],[152.9,2.67],[154.3,2.54],[156.7,2.56],[152.9,2.44],[169.1,2.73],[173,2.71],[167.3,2.63],[113,3.34],[100,3.09],[129,3.13],[129,2.9],[132,2.87],[143,3.1],[140,2.93],[147,2.9],[109,2.73],[147,2.65],[136,2.46],[100,2.38],[101,2.37],[117,2.22],[108,2.1],[80.8,2.27],[125,2.24],[10.5,2.16],[18.7,1.74],[23,1.79],[31.5,1.71],[50,1.96],[52.7,1.73],[58.3,1.68],[69.2,1.68],[77,1.69],[72.3,1.61],[16.7,1.62],[23.9,1.58],[25,1.56],[64.5,1.58],[54,1.54],[11,1.42],[17.9,1.46],[15.7,1.52],[35.7,1.43],[38.3,1.37],[45,1.42],[50.4,1.43],[31,1.39],[20.6,1.37],[10.2,1.23],[12.7,1.31],[15.9,1.24],[24.1,1.25],[26.9,1.31],[8,1.11],[4.3,1.04],[3,.97],[41,1.3],[44,1.35],[47,1.33],[34,1.3],[36,1.22],[38.5,1.2],[42,1.22],[48,1.22],[52,1.26],[55,1.3],[57,1.31],[60,1.3],[62,1.28],[63,1.4],[64,1.5],[67,1.4],[68,1.32],[70,1.3],[71.5,1.36],[74,1.45],[75,1.4],[76,1.3],[79,1.38],[81,1.48],[83,1.5],[85,1.47],[87,1.52],[88,1.42],[90,1.42],[91,1.55],[92,1.4],[95,1.35],[98,1.5],[99.5,1.6],[101,1.65],[102,1.58],[105,1.54],[108,1.68],[109,1.75],[112,1.62],[113,1.78],[115,1.68],[117,1.75],[119,1.85],[121,1.8],[123,1.85],[124,1.82],[127,1.92],[126.5,1.9],[129,1.95],[131,1.98],[133,2.18],[134,2.15],[135,2.1],[137,2.05],[139,2.2],[141,2.22],[143,2.25],[146,2.3],[148,2.4],[150,2.45],[153,2.32],[155,2.4],[157,2.46],[160,2.62],[163,2.6],[166,2.7],[172,2.82],[175,2.95],[178,2.92],[181,3.0],[184,3.08],[187,3.1],[24,1.05],[27,1.1],[30,1.2],[33,1.1],[37,1.12],[40,1.1],[44,1.12],[46,1.08],[50,1.12],[52,1.08],[55,1.13],[58,1.1],[62,1.12],[66,1.15],[69,1.2],[72,1.18],[74,1.22],[77,1.24],[79,1.18]];

const dotPts = [];
[floorEdge, topA, tailA, tailB, fringe, scatterC1, edgeC3, edgeD1, edgeD2, upperD2, fuzzD2, fuzzC3, fuzzC2, fuzzC1, fuzzD1, fuzzB, fuzzA, fuzzBlob, outliers].forEach(list => list.forEach(p => dotPts.push(p)));
midD3.forEach(c => c.slice(1).forEach(y => dotPts.push([c[0], y])));
const massPts = [];
[coreBlob, bandA, bandB, coreC1, coreC2, coreC3, coreD1, coreD2].forEach(list => list.forEach(c => c.slice(1).forEach(y => massPts.push([c[0], y]))));

const font = "DejaVu Sans";
const chart = echarts.init(document.getElementById('c'), null, {renderer:'canvas', width:3000, height:2000});
const line = {show:true, onZero:false, lineStyle:{color:'#000', width:3}};
const tick = {show:true, inside:true, length:12, lineStyle:{color:'#000', width:2}};
const mark = {color:'#0000ff', opacity:1};
chart.setOption({
  animation:false, backgroundColor:'#fff',
  grid:{left:197, right:108, top:60, bottom:185, containLabel:false},
  xAxis:[
    {type:'value', min:0, max:500, interval:100, position:'bottom', splitLine:{show:false}, axisLine:line, axisTick:tick,
     axisLabel:{fontFamily:font, fontSize:55, color:'#000', margin:12},
     name:xTitle, nameLocation:'middle', nameGap:76, nameTextStyle:{fontFamily:font, fontSize:55, color:'#000'}},
    {type:'value', min:0, max:500, interval:100, position:'top', splitLine:{show:false}, axisLine:line, axisTick:tick, axisLabel:{show:false}}
  ],
  yAxis:[
    {type:'value', min:0, max:15, interval:2, position:'left', splitLine:{show:false}, axisLine:line, axisTick:tick,
     axisLabel:{fontFamily:font, fontSize:55, color:'#000', margin:12, showMaxLabel:false},
     name:yTitle, nameLocation:'middle', nameGap:88, nameRotate:90, nameTextStyle:{fontFamily:font, fontSize:55, color:'#000'}},
    {type:'value', min:0, max:15, interval:2, position:'right', splitLine:{show:false}, axisLine:line, axisTick:tick, axisLabel:{show:false}}
  ],
  series:[
    {type:'scatter', data:massPts, symbol:'circle', symbolSize:20, itemStyle:mark, clip:true, silent:true, progressive:0},
    {type:'scatter', data:dotPts, symbol:'circle', symbolSize:15, itemStyle:mark, clip:true, silent:true, progressive:0}
  ]
});
</script></body></html>
